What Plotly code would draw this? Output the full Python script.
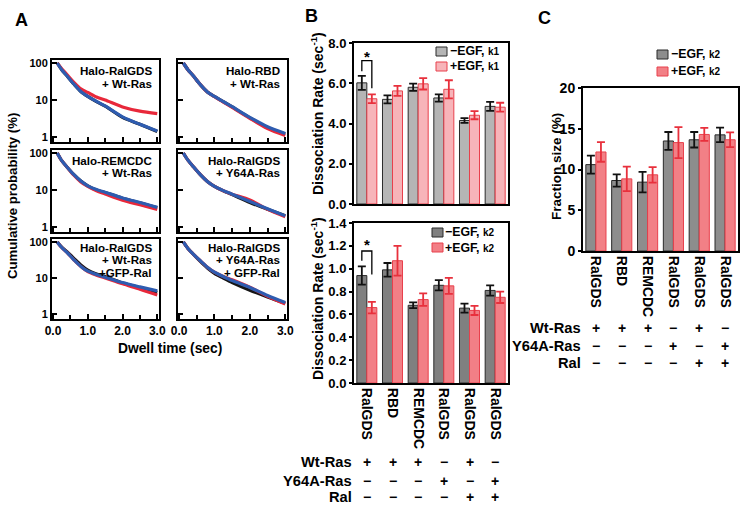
import plotly.graph_objects as go

FONT = "Liberation Sans, Arial, Helvetica, sans-serif"
W, H = 745, 510

# ---------------- Panel A data (cumulative probability, %) ----------------
dwell_time = [0.12, 0.25, 0.4, 0.6, 0.8, 1.0, 1.25, 1.5, 2.0, 2.5, 3.0]
panel_names = [
    ["Halo-RalGDS", "+ Wt-Ras"],
    ["Halo-RBD", "+ Wt-Ras"],
    ["Halo-REMCDC", "+ Wt-Ras"],
    ["Halo-RalGDS", "+ Y64A-Ras"],
    ["Halo-RalGDS", "+ Wt-Ras", "+GFP-Ral"],
    ["Halo-RalGDS", "+ Y64A-Ras", "+ GFP-Ral"],
]
curve_black = [
    [100, 66, 45, 27, 17, 12.5, 9, 6.8, 3.4, 2.2, 1.4],
    [100, 66, 45, 26, 16.5, 12.5, 9, 6.5, 3.3, 1.8, 1.2],
    [100, 62, 42, 26, 17.5, 13, 10, 8.5, 6, 4.5, 3.3],
    [100, 64, 43, 26, 17, 12.5, 9.5, 7.5, 4.6, 3.0, 2.0],
    [100, 72, 54, 35, 23, 16.5, 13, 11, 7.3, 5.4, 4.0],
    [100, 66, 46, 29, 19, 13.5, 10, 7.5, 4.6, 3.0, 2.0],
]
curve_red = [
    [100, 70, 49, 30, 20, 16, 12, 10, 6.5, 5.0, 4.3],
    [100, 66, 45, 26, 16.5, 12.3, 8.8, 6.3, 3.2, 1.7, 1.1],
    [100, 62, 42, 25, 16.5, 12.5, 9.5, 7.8, 5.3, 4.0, 3.0],
    [100, 64, 43, 26, 17, 12.5, 9.5, 7.7, 5.4, 3.0, 1.9],
    [100, 70, 51, 32, 21, 15, 12, 10, 6.9, 4.9, 3.4],
    [100, 66, 46, 30, 20, 14.5, 11, 9.0, 5.6, 3.1, 1.9],
]
curve_blue = [
    [100, 66, 45, 27, 17, 12.5, 9.2, 6.9, 3.5, 2.2, 1.45],
    [100, 66, 45, 26, 16.5, 12.5, 9, 6.6, 3.4, 1.9, 1.25],
    [100, 62, 42, 26, 17.5, 13, 10.3, 8.7, 6.1, 4.6, 3.4],
    [100, 64, 43, 26, 17, 12.5, 9.6, 7.7, 4.9, 3.1, 2.0],
    [100, 70, 51, 32, 21, 15.5, 12.5, 10.5, 7.5, 5.7, 4.4],
    [100, 66, 46, 30, 20, 14.5, 11, 8.5, 5.5, 3.3, 2.1],
]

# ---------------- Panel B / C data ----------------
categories = ["RalGDS", "RBD", "REMCDC", "RalGDS", "RalGDS", "RalGDS"]
k1_minus = [6.02, 5.2, 5.8, 5.27, 4.15, 4.85]
k1_minus_err = [0.35, 0.2, 0.18, 0.18, 0.12, 0.22]
k1_plus = [5.23, 5.62, 5.97, 5.7, 4.41, 4.81]
k1_plus_err = [0.22, 0.25, 0.28, 0.45, 0.2, 0.22]
k2_minus = [0.94, 0.99, 0.68, 0.855, 0.655, 0.81]
k2_minus_err = [0.08, 0.06, 0.025, 0.045, 0.04, 0.045]
k2_plus = [0.66, 1.07, 0.73, 0.85, 0.635, 0.75]
k2_plus_err = [0.05, 0.13, 0.055, 0.07, 0.04, 0.05]
frac_minus = [10.6, 8.65, 8.45, 13.5, 13.65, 14.25]
frac_minus_err = [1.1, 0.75, 1.25, 1.1, 0.95, 0.9]
frac_plus = [12.15, 8.85, 9.35, 13.3, 14.3, 13.65]
frac_plus_err = [1.2, 1.5, 0.95, 1.9, 0.8, 0.9]
wt_ras = ["+", "+", "+", "−", "+", "−"]
y64a_ras = ["−", "−", "−", "+", "−", "+"]
ral = ["−", "−", "−", "−", "+", "+"]
row_names = ["Wt-Ras", "Y64A-Ras", "Ral"]


def px(p):
    return p / W


def py(p):
    return 1 - p / H


fig = go.Figure()
layout = {}
annotations = []
shapes = []

# ---------------- Panel A ----------------
A_cols = [(52, 159), (178, 287)]
A_rows = [(60, 142), (150, 232), (239, 319)]
first_line = [71, 71, 160.5, 160.5, 247.5, 247.5]
LINE_STEP = 12.3
for i in range(6):
    r, c = i // 2, i % 2
    n = i + 1
    xa, ya = f"x{n}", f"y{n}"
    for ys, col in ((curve_black[i], "#151515"), (curve_red[i], "#e8283a"), (curve_blue[i], "#2e5cb0")):
        fig.add_trace(go.Scatter(x=dwell_time, y=ys, mode="lines",
                                 line=dict(color=col, width=3.2, shape="spline", smoothing=0.8),
                                 xaxis=xa, yaxis=ya, showlegend=False, hoverinfo="skip"))
    x0, x1 = A_cols[c]
    y0, y1 = A_rows[r]
    layout[f"xaxis{n}"] = dict(domain=[px(x0), px(x1)], anchor=ya, range=[-0.03, 3.05], automargin=False,
                               showline=True, mirror=True, linewidth=2, linecolor="black",
                               ticks="inside", ticklen=5, tickwidth=1.5, tickcolor="black",
                               tickvals=[0, 1, 2, 3], ticktext=["0.0", "1.0", "2.0", "3.0"],
                               minor=dict(tickvals=[0.5, 1.5, 2.5], ticks="inside", ticklen=4,
                                          tickwidth=1.5, tickcolor="black", showgrid=False),
                               showticklabels=(r == 2), showgrid=False, zeroline=False,
                               tickfont=dict(size=12, family=FONT, weight="bold", color="black"))
    layout[f"yaxis{n}"] = dict(domain=[py(y1), py(y0)], anchor=xa, type="log", range=[-0.135, 2.081],
                               automargin=False,
                               showline=True, mirror=True, linewidth=2, linecolor="black",
                               ticks="inside", ticklen=5, tickwidth=1.5, tickcolor="black",
                               tickvals=[1, 10, 100], ticktext=["1", "10", "100"],
                               showticklabels=(c == 0), showgrid=False, zeroline=False,
                               tickfont=dict(size=11, family=FONT, weight="bold", color="black"))
    for j, txt in enumerate(panel_names[i]):
        annotations.append(dict(xref="paper", yref="paper", x=px(x1 - 5), y=py(first_line[i] + j * LINE_STEP),
                                xanchor="right", yanchor="middle", text=txt, showarrow=False,
                                font=dict(size=11.6, family=FONT, weight="bold", color="black")))

annotations.append(dict(xref="paper", yref="paper", x=px(13), y=py(196), text="Cumulative probability (%)",
                        textangle=-90, showarrow=False, xanchor="center", yanchor="middle",
                        font=dict(size=13.2, family=FONT, weight="bold", color="black")))
annotations.append(dict(xref="paper", yref="paper", x=px(170), y=py(348), text="Dwell time (sec)",
                        showarrow=False, xanchor="center", yanchor="middle",
                        font=dict(size=13.8, family=FONT, weight="bold", color="black")))

# ---------------- Bar panels ----------------
bar_specs = [
    (7, (354, 508), (43, 204), k1_minus, k1_minus_err, k1_plus, k1_plus_err,
     ("#b5b5b5", "#f7b4b9"), [0, 8], 2, ".1f", False, 13),
    (8, (354, 508), (223, 383), k2_minus, k2_minus_err, k2_plus, k2_plus_err,
     ("#808080", "#f27f86"), [0, 1.4], 0.2, ".1f", True, 13),
    (9, (583, 738), (88, 251), frac_minus, frac_minus_err, frac_plus, frac_plus_err,
     ("#8d8d8d", "#f28086"), [0, 20], 5, "d", True, 14),
]
xs = list(range(len(categories)))
for n, (bx0, bx1), (by0, by1), mv, me, pv, pe, (gcol, pcol), yr, dt, fmt, showx, tfs in bar_specs:
    xa, ya = f"x{n}", f"y{n}"
    fig.add_trace(go.Bar(x=xs, y=mv, xaxis=xa, yaxis=ya, showlegend=False, offsetgroup="m",
                         marker=dict(color=gcol, line=dict(color="#2a2a2a", width=1)),
                         error_y=dict(type="data", array=me, color="#111111", thickness=1.8, width=4)))
    fig.add_trace(go.Bar(x=xs, y=pv, xaxis=xa, yaxis=ya, showlegend=False, offsetgroup="p",
                         marker=dict(color=pcol, line=dict(color="#e8404c", width=1)),
                         error_y=dict(type="data", array=pe, color="#e8303c", thickness=1.8, width=4)))
    layout[f"xaxis{n}"] = dict(domain=[px(bx0), px(bx1)], anchor=ya, range=[-0.5, 5.5], automargin=False,
                               showline=True, mirror=True, linewidth=2, linecolor="black",
                               ticks="", tickvals=xs, ticktext=categories, tickangle=90,
                               showticklabels=showx, showgrid=False, zeroline=False,
                               tickfont=dict(size=14, family=FONT, weight="bold", color="black"))
    layout[f"yaxis{n}"] = dict(domain=[py(by1), py(by0)], anchor=xa, range=yr, dtick=dt, tickformat=fmt,
                               automargin=False,
                               showline=True, mirror=True, linewidth=2, linecolor="black",
                               ticks="outside", ticklen=3, tickwidth=1.5, tickcolor="black",
                               showgrid=False, zeroline=False,
                               tickfont=dict(size=tfs, family=FONT, weight="bold", color="black"))

# significance brackets (group 0)
half = (1 - 0.22) / 4
for n, mv, me, pv, pe, top_off, left_off, right_off, star_off in (
        (7, k1_minus, k1_minus_err, k1_plus, k1_plus_err, 0.75, 0.23, 0.3, 0.95),
        (8, k2_minus, k2_minus_err, k2_plus, k2_plus_err, 0.135, 0.05, 0.24, 0.19)):
    gtop = mv[0] + me[0]
    ptop = pv[0] + pe[0]
    yh = gtop + top_off
    shapes.append(dict(type="path", xref=f"x{n}", yref=f"y{n}",
                       path=f"M {-half},{gtop + left_off} L {-half},{yh} L {half},{yh} L {half},{ptop + right_off}",
                       line=dict(color="black", width=1.3)))
    annotations.append(dict(xref=f"x{n}", yref=f"y{n}", x=0, y=gtop + star_off, text="*", showarrow=False,
                            xanchor="center", yanchor="middle",
                            font=dict(size=15, family=FONT, weight="bold", color="black")))

# axis titles for B and C
for xc, yc, txt, fs in ((317, 114, "Dissociation Rate (sec<sup>-1</sup>)", 14),
                        (317, 299, "Dissociation Rate (sec<sup>-1</sup>)", 14),
                        (557, 167, "Fraction size (%)", 13.5)):
    annotations.append(dict(xref="paper", yref="paper", x=px(xc), y=py(yc), text=txt, textangle=-90,
                            showarrow=False, xanchor="center", yanchor="middle",
                            font=dict(size=fs, family=FONT, weight="bold", color="black")))

# legends (manual)
legend_specs = [
    (436, (47, 62), ("#b5b5b5", "#f7b4b9"), "1"),
    (432, (228, 243), ("#808080", "#f27f86"), "2"),
    (657, (50, 67), ("#8d8d8d", "#f28086"), "2"),
]
for lx, (ly1, ly2), (gcol, pcol), kk in legend_specs:
    for ly, col, edge, sign in ((ly1, gcol, "#2a2a2a", "−"), (ly2, pcol, "#e8404c", "+")):
        shapes.append(dict(type="rect", xref="paper", yref="paper", x0=px(lx), x1=px(lx + 11),
                           y0=py(ly + 9), y1=py(ly), fillcolor=col, line=dict(color=edge, width=1)))
        annotations.append(dict(xref="paper", yref="paper", x=px(lx + 11.5), y=py(ly + 4.5),
                                text=f"{sign}EGF, <span style='font-size:10px'>k{kk}</span>",
                                showarrow=False, xanchor="left", yanchor="middle",
                                font=dict(size=12.3, family=FONT, weight="bold", color="black")))

# +/- tables
for n, label_right, row_y in ((8, 354, (462, 481, 497)), (9, 583, (328, 346, 363))):
    for rname, vals, yy in zip(row_names, (wt_ras, y64a_ras, ral), row_y):
        annotations.append(dict(xref="paper", yref="paper", x=px(label_right), y=py(yy), text=rname,
                                showarrow=False, xanchor="right", yanchor="middle",
                                font=dict(size=14.7, family=FONT, weight="bold", color="black")))
        for k, v in enumerate(vals):
            annotations.append(dict(xref=f"x{n}", yref="paper", x=k, y=py(yy), text=v,
                                    showarrow=False, xanchor="center", yanchor="middle",
                                    font=dict(size=14, family=FONT, weight="bold", color="black")))

# panel letters
for lx, ly, t in ((21, 20, "A"), (311, 16, "B"), (544, 18, "C")):
    annotations.append(dict(xref="paper", yref="paper", x=px(lx), y=py(ly), text=t, showarrow=False,
                            xanchor="center", yanchor="middle",
                            font=dict(size=18, family=FONT, weight="bold", color="black")))

fig.update_layout(**layout)
fig.update_layout(width=W, height=H, margin=dict(l=0, r=0, t=0, b=0, pad=0, autoexpand=False),
                  paper_bgcolor="white", plot_bgcolor="white",
                  barmode="group", bargap=0.22, bargroupgap=0,
                  font=dict(family=FONT, color="black"),
                  annotations=annotations, shapes=shapes, showlegend=False)
# remove the default page margin so the figure sits at the window's top-left corner
fig.write_html("out.html", config={"displayModeBar": False},
               post_script="document.body.style.margin='0';document.body.style.overflow='hidden';")
